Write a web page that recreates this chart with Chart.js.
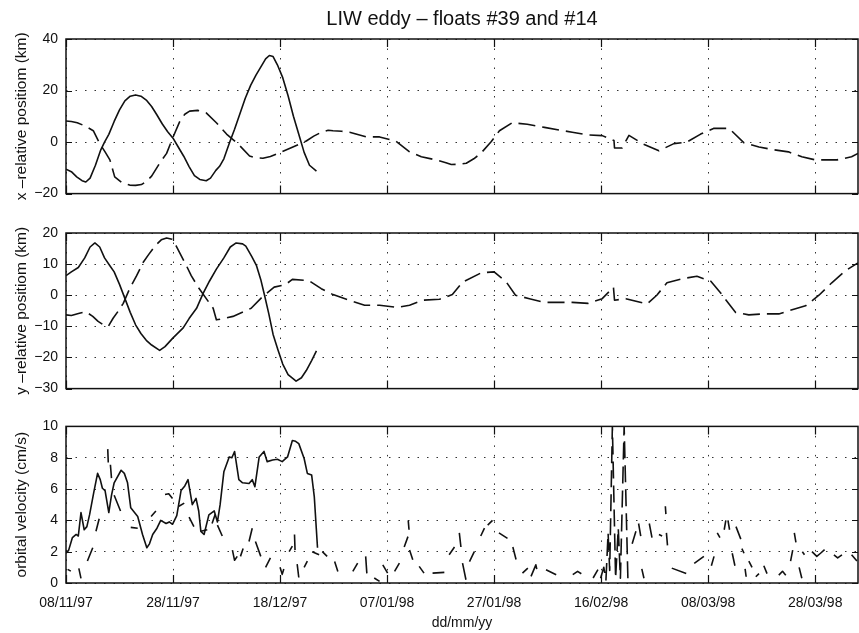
<!DOCTYPE html>
<html>
<head>
<meta charset="utf-8">
<script src="https://cdn.jsdelivr.net/npm/chart.js@4"></script>
<style>
  body { margin: 0; background: #fff; }
  #wrap { position: relative; width: 859px; height: 633px; }
  canvas { position: absolute; left: 0; }
</style>
</head>
<body>
<div id="wrap">
  <canvas id="xChart" width="859" height="210" style="top:0px"></canvas>
  <canvas id="yChart" width="859" height="190" style="top:215px"></canvas>
  <canvas id="vChart" width="859" height="223" style="top:410px"></canvas>
</div>
<script>
// x axis: days since 08/11/97, one label every 20 days
const dateTicks = ['08/11/97', '28/11/97', '18/12/97', '07/01/98', '27/01/98', '16/02/98', '08/03/98', '28/03/98'];

// x-relative position (km)
const xDays39 = [0, 1, 2, 3, 3.7, 4.5, 5.5, 6.5, 7.2, 8,
  9, 10, 11, 12, 13, 14, 15, 16, 17, 18,
  19, 20, 21, 22, 23, 24, 25, 26.2, 27, 28,
  28.7, 29.5, 30.6, 31.5, 32.5, 33.5, 34.5, 35.5, 36.5, 37.3,
  38, 38.7, 39.5, 40.5, 41.5, 42.5, 43.5, 44.5, 45.5, 46.8];
const xPos39 = [-10.5, -11.5, -13.5, -15, -15.5, -14, -9, -3, 0, 3,
  8, 12.5, 16, 17.8, 18.3, 17.8, 16.3, 13.8, 10.5, 7,
  4, 1.5, -2, -5.5, -9.5, -13, -14.5, -15, -14, -11,
  -9.4, -6.5, 0, 5, 11, 17, 22, 26, 29.5, 32.3,
  33.6, 33.2, 30, 25, 18, 10, 3, -4, -9, -11.3];
const xDays14 = [0, 1, 2.1, 3.5, 5.1, 6.3, 7.3, 8.2, 9.1, 10.5,
  11.9, 13, 14.1, 15, 16, 17.5, 18.8, 20, 21.3, 22.2,
  23.1, 24.6, 26.2, 28.1, 30, 32.1, 34.3, 35.5, 36.8, 38.2,
  39.6, 42.4, 44.9, 46.3, 47.7, 49, 49.9, 51.5, 53, 56.1,
  58.6, 61.6, 64.2, 66.4, 69.1, 71, 72, 73.5, 74.8, 76.2,
  77.5, 79.4, 81, 83.4, 86.2, 89.4, 94.6, 97.4, 100.2, 102.4,
  102.5, 103.9, 105.2, 107.7, 110.8, 113.6, 116, 118.6, 121, 123.9,
  126.7, 129.5, 132.3, 135, 137.5, 140, 144.1, 146.8, 148];
const xPos14 = [8.2, 8, 7.5, 6.3, 4.4, -0.6, -3.8, -6.9, -13.5, -15.8,
  -16.7, -16.8, -16.5, -15.3, -13.2, -8.2, -4.4, 1.9, 8.2, 10.8,
  12, 12.3, 11.3, 7.5, 3.1, -0.6, -5.4, -6.1, -6.3, -5.6,
  -4.4, -1.9, 0.4, 2.3, 3.8, 4.6, 4.4, 4.2, 3.8, 2,
  2, 0.4, -3.8, -5.7, -6.9, -8, -8.7, -8.6, -8.2, -6.5,
  -4.4, 0, 4.4, 7.5, 6.9, 5.7, 3.8, 2.8, 2.5, 0.6,
  -2.3, -2.3, 2.6, -0.6, -3.4, -0.6, 0, 3.1, 5.3, 5.3,
  -0.3, -1.9, -3, -3.8, -5.7, -6.9, -6.9, -5.7, -4.4];

// y-relative position (km)
const yDays39 = [0, 1, 2.3, 3.5, 4.5, 5.4, 6.3, 7.2, 8.2, 9,
  10, 11, 12, 13, 14, 15, 16, 17.5, 18.5, 20,
  21.9, 23, 24.4, 25.6, 26.8, 28.1, 29.5, 30.7, 31.8, 33,
  33.6, 34.7, 35.6, 36.4, 37.1, 37.9, 38.7, 39.6, 40.5, 41.5,
  43, 44, 44.9, 45.9, 46.8];
const yPos39 = [6.3, 7.5, 8.9, 12, 15.5, 16.8, 15.5, 12, 9.5, 7.5,
  3.5, -1, -5.5, -9.5, -12.3, -14.5, -16, -17.7, -16.5, -13.7,
  -10.5, -7.5, -4.2, 0.5, 4.5, 8.4, 12, 15.5, 16.8, 16.5,
  15.8, 12.5, 9.5, 5, 0, -6, -12.6, -17.5, -22.1, -25.5,
  -27.6, -26.5, -24.2, -21, -17.9];
const yDays14 = [0, 1, 2.5, 3.7, 5, 6, 7, 7.9, 8.8, 9.8,
  10.7, 11.9, 13.2, 14.4, 15.5, 16.6, 17.8, 18.8, 19.8, 20.6,
  22.5, 23.4, 24.7, 27.5, 28.1, 29.5, 31.2, 34.6, 36.7, 38.9,
  41, 42.3, 45.4, 47.7, 49.9, 52.4, 55.8, 58.6, 62, 64.2,
  66.7, 69.8, 72.2, 74.1, 77.6, 80, 82.3, 84, 86.6, 89.4,
  94.6, 97.6, 100.2, 102.3, 102.5, 104.6, 108.6, 110.4, 112.3, 115.1,
  117.9, 120.5, 122.3, 123.9, 125.1, 127.6, 130.4, 133.2, 136, 138.2,
  140.7, 143.1, 145.6, 148];
const yPos14 = [-6.3, -6.5, -5.8, -5.3, -6.8, -8.4, -9.5, -10, -7.4, -5,
  -2.6, 2.1, 6.3, 10.5, 13.2, 15.8, 17.8, 18.4, 18, 15.8,
  9.5, 6.3, 2.6, -4.2, -7.9, -7.5, -6.8, -4.2, -0.5, 2.6,
  3.4, 5.1, 4.7, 2.1, 0.2, -1.3, -3.2, -3.2, -3.9, -3.2,
  -1.6, -1.3, 0.2, 4.2, 7.2, 7.5, 4.2, 0, -1.1, -2.3,
  -2.3, -2.6, -1.1, 2.6, -1.6, -1.1, -2.8, 0, 4, 5.3,
  6.1, 4.5, 0.8, -2.8, -5.5, -6.3, -6, -6, -4.5, -3.4,
  0, 4, 7.8, 10.4];

// orbital velocity (cm/s)
const vDays39 = [0, 0.5, 1.2, 1.9, 2.3, 2.8, 3.4, 3.9, 4.4, 5.2,
  5.9, 6.4, 6.8, 7.3, 8.0, 8.5, 9.0, 10.3, 10.9, 11.5,
  12.1, 13.4, 14.3, 15.1, 15.6, 16.2, 17.0, 17.7, 18.7, 19.3,
  19.9, 20.7, 21.5, 22.2, 22.8, 23.6, 24.3, 24.8, 25.2, 25.8,
  26.7, 27.7, 28.3, 28.8, 29.5, 30.5, 31.0, 31.5, 32.3, 33.0,
  34.2, 34.8, 35.3, 36.1, 37.0, 37.6, 38.6, 39.5, 40.4, 41.4,
  42.3, 42.9, 43.5, 44.5, 45.1, 45.9, 46.4, 47.0];
const vel39 = [1.9, 2.1, 2.9, 3.1, 3.0, 4.5, 3.4, 3.6, 4.35, 5.8,
  7.0, 6.6, 6.05, 5.9, 4.5, 5.6, 6.4, 7.2, 7.0, 6.4,
  4.8, 4.25, 3.1, 2.25, 2.5, 3.1, 3.5, 4.0, 3.8, 3.9,
  3.75, 4.3, 5.9, 6.2, 6.6, 5.0, 5.4, 4.6, 3.3, 3.1,
  4.35, 4.6, 3.9, 5.0, 7.1, 8.05, 8.0, 8.4, 6.6, 6.4,
  6.35, 6.6, 6.15, 8.05, 8.4, 7.75, 7.85, 7.9, 7.75, 8.05,
  9.1, 9.05, 8.9, 7.95, 7.0, 6.9, 5.5, 2.25];
// float #14 velocity comes in short pieces, null = gap
const vDays14 = [
  0.3, 0.9, null, 2.4, 2.8, null, 4.0, 5.0, null, 5.6, 6.2, null,
  7.8, 7.9, null, 8.3, 8.5, null, 9.0, 10.3, null, 12.1, 13.4, null,
  15.9, 16.8, null, 18.5, 19.2, 19.9, null, 21.1, 22.1, null, 23.0, 23.9, null,
  25.2, 26.4, null, 27.3, 27.9, null, 28.3, 29.2, null, 31.1, 31.5, 32.0, null,
  32.6, 33.1, null, 34.2, 34.8, null, 35.4, 36.4, null, 37.3, 38.2, null,
  40.0, 40.4, 40.7, null, 41.7, 42.3, null, 42.7, 42.8, null, 43.2, 43.5, null,
  44.5, 45.1, null, 46.0, 47.3, null, 47.9, 48.8, null, 50.2, 50.8, null,
  53.6, 54.5, null, 56.0, 56.3, null, 57.6, 58.6, null, 59.2, 60.1, null,
  61.4, 62.3, null, 63.2, 63.9, null, 63.95, 64.1, null, 64.2, 64.8, null,
  66.0, 66.9, null, 68.5, 70.7, null, 71.6, 72.6, null, 73.5, 73.8, null,
  74.1, 74.8, null, 75.4, 76.3, null, 77.5, 78.2, null, 78.8, 79.7, null,
  80.9, 82.5, null, 83.5, 84.1, null, 85.3, 86.3, null, 86.9, 87.8, 88.2, null,
  89.7, 91.6, null, 94.7, 95.6, 96.3, null, 98.5, 99.4, null,
  99.9, 100.5, 100.9, 101.3, 101.6, 102.1, 102.7, 103.2, 103.6, 104.3, 105.0, null,
  105.8, 106.5, null, 107.0, 107.4, null, 107.6, 108.0, null, 109.0, 109.5, null,
  110.8, 111.4, null, 112.0, 112.1, null, 112.2, 112.4, null, 113.2, 115.9, null,
  117.4, 119.2, null, 120.6, 121.1, null, 121.7, 122.2, null, 123.0, 123.3, null,
  123.7, 124.0, null, 124.5, 125.0, null, 125.2, 126.1, null, 126.3, 126.7, null,
  126.9, 127.1, null, 127.6, 128.2, null, 128.9, 129.5, null, 130.4, 131.0, null,
  133.2, 133.9, 134.5, null, 135.4, 135.8, null, 136.1, 136.4, null,
  137.0, 137.5, null, 137.6, 138.0, null, 139.4, 140.3, 141.0, 142.0, null,
  143.5, 144.2, 145.0, null, 146.8, 147.8];
const vel14 = [
  0.87, 0.76, null, 0.93, 0.3, null, 1.4, 2.25, null, 3.3, 4.1, null,
  8.55, 7.7, null, 7.55, 6.7, null, 5.6, 4.5, null, 3.55, 3.5, null,
  4.25, 4.6, null, 5.65, 5.7, 5.4, null, 4.9, 5.1, null, 4.2, 3.6, null,
  3.3, 3.4, null, 3.8, 4.4, null, 3.7, 3.0, null, 2.1, 1.45, 1.7, null,
  1.7, 2.2, null, 2.65, 3.5, null, 2.65, 1.7, null, 1.0, 1.6, null,
  1.0, 0.55, 0.9, null, 2.0, 2.35, null, 3.1, 2.1, null, 1.2, 0.35, null,
  1.0, 1.4, null, 2.0, 1.8, null, 2.0, 1.7, null, 1.37, 0.74, null,
  0.74, 1.27, null, 1.7, 0.2, null, 0.32, 0.1, null, 1.16, 0.63, null,
  0.74, 1.27, null, 2.3, 2.96, null, 4.0, 3.4, null, 2.1, 1.48, null,
  1.06, 0.63, null, 0.63, 0.68, null, 1.8, 2.3, null, 3.2, 2.3, null,
  1.27, 0.1, null, 1.37, 2.0, null, 3.0, 3.5, null, 3.7, 4.0, null,
  3.2, 2.85, null, 2.3, 1.5, null, 0.63, 0.95, null, 0.42, 1.16, 0.53, null,
  0.85, 0.53, null, 0.53, 0.74, 0.59, null, 0.32, 0.85, null,
  0.3, 1.0, 0.2, 3.2, 0.8, 10, 0.3, 3.5, 0.3, 10, 0.3, null,
  2.5, 3.3, null, 3.8, 3.0, null, 0.9, 0.3, null, 3.8, 2.9, null,
  3.1, 3.0, null, 4.9, 4.4, null, 3.2, 2.4, null, 0.95, 0.6, null,
  1.25, 1.7, null, 1.1, 1.7, null, 3.2, 2.9, null, 3.4, 4.0, null,
  4.0, 3.4, null, 1.9, 1.1, null, 3.6, 2.8, null, 2.2, 1.9, null,
  0.9, 0.4, null, 1.4, 1.0, null, 0.4, 0.6, null, 1.1, 0.6, null,
  0.5, 0.75, 0.5, null, 1.4, 2.1, null, 3.2, 2.6, null,
  1.0, 0.3, null, 2.0, 1.8, null, 2.0, 1.7, 1.9, 2.2, null,
  1.8, 1.6, 1.8, null, 1.8, 1.4];

Chart.defaults.font.family = '"Liberation Sans", Arial, Helvetica, sans-serif';
Chart.defaults.color = '#111';

function points(days, vals) {
  let last = 0;
  return days.map((d, i) => {
    if (d !== null) last = d;
    return { x: last, y: vals[i] };
  });
}

function minusSign(v) {
  return v < 0 ? '\u2212' + Math.abs(v) : String(v);
}

// MATLAB style box with inward tick marks
const framePlugin = {
  id: 'frame',
  afterDraw(chart) {
    const { ctx, chartArea: a, scales } = chart;
    ctx.save();
    ctx.strokeStyle = '#111';
    ctx.lineWidth = 1.5;
    ctx.strokeRect(a.left, a.top, a.right - a.left, a.bottom - a.top);
    ctx.lineWidth = 1.2;
    ctx.beginPath();
    scales.x.ticks.forEach(t => {
      const px = Math.round(scales.x.getPixelForValue(t.value)) + 0.5;
      ctx.moveTo(px, a.top); ctx.lineTo(px, a.top + 8);
      ctx.moveTo(px, a.bottom); ctx.lineTo(px, a.bottom - 8);
    });
    scales.y.ticks.forEach(t => {
      const py = Math.round(scales.y.getPixelForValue(t.value)) + 0.5;
      ctx.moveTo(a.left, py); ctx.lineTo(a.left + 6, py);
      ctx.moveTo(a.right, py); ctx.lineTo(a.right - 6, py);
    });
    ctx.stroke();
    ctx.restore();
  }
};

function makeChart(id, cfg) {
  return new Chart(document.getElementById(id), {
    type: 'line',
    data: {
      datasets: [
        { data: points(cfg.days39, cfg.vals39), borderColor: '#111', borderWidth: 1.6 },
        { data: points(cfg.days14, cfg.vals14), borderColor: '#111', borderWidth: 1.6, borderDash: [17, 7] }
      ]
    },
    options: {
      responsive: false,
      animation: false,
      spanGaps: false,
      elements: { point: { radius: 0 }, line: { tension: 0, borderJoinStyle: 'round' } },
      layout: { padding: { top: cfg.padTop, bottom: cfg.padBottom, left: 0, right: 1 } },
      plugins: {
        legend: { display: false },
        tooltip: { enabled: false },
        title: {
          display: !!cfg.title,
          text: cfg.title,
          fullSize: false,
          color: '#111',
          font: { size: 20, weight: 'normal' },
          padding: { top: 7, bottom: 8 }
        }
      },
      scales: {
        x: {
          type: 'linear',
          min: 0,
          max: 148,
          afterFit: s => { s.height = cfg.xHeight; },
          grid: { color: '#333', lineWidth: 1, drawTicks: false },
          border: { display: false, dash: [1.5, 8] },
          ticks: {
            display: cfg.showDates,
            stepSize: 20,
            includeBounds: false,
            autoSkip: false,
            maxRotation: 0,
            padding: 12,
            font: { size: 14 },
            callback: v => dateTicks[v / 20]
          },
          title: {
            display: cfg.showDates,
            text: 'dd/mm/yy',
            font: { size: 14 },
            padding: { top: 0, bottom: 1 }
          }
        },
        y: {
          min: cfg.yMin,
          max: cfg.yMax,
          afterFit: s => { s.width = 66; },
          grid: { color: '#333', lineWidth: 1, drawTicks: false },
          border: { display: false, dash: [1.5, 8] },
          ticks: { stepSize: cfg.yStep, padding: 8, font: { size: 14 }, callback: minusSign },
          title: { display: true, text: cfg.yTitle, font: { size: 15.5 }, padding: { top: 12, bottom: 0 } }
        }
      }
    },
    plugins: [framePlugin]
  });
}

makeChart('xChart', {
  title: 'LIW eddy \u2013 floats #39 and #14',
  days39: xDays39, vals39: xPos39, days14: xDays14, vals14: xPos14,
  yMin: -20, yMax: 40, yStep: 20, yTitle: 'x \u2013relative positiom (km)',
  padTop: 0, padBottom: 12, xHeight: 0, showDates: false
});

makeChart('yChart', {
  days39: yDays39, vals39: yPos39, days14: yDays14, vals14: yPos14,
  yMin: -30, yMax: 20, yStep: 10, yTitle: 'y \u2013relative positiom (km)',
  padTop: 18, padBottom: 13, xHeight: 0, showDates: false
});

makeChart('vChart', {
  days39: vDays39, vals39: vel39, days14: vDays14, vals14: vel14,
  yMin: 0, yMax: 10, yStep: 2, yTitle: 'orbital velocity (cm/s)',
  padTop: 16, padBottom: 0, xHeight: 50, showDates: true
});
</script>
</body>
</html>
